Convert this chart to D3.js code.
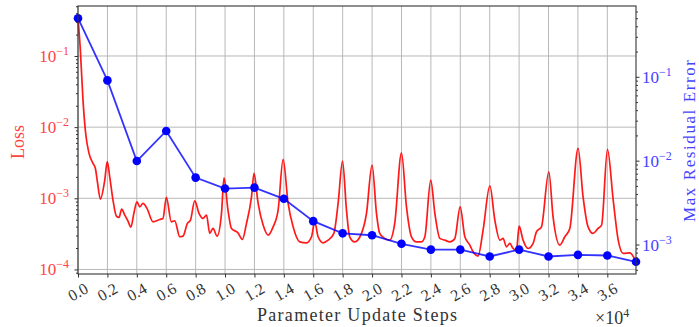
<!DOCTYPE html>
<html>
<head>
<meta charset="utf-8">
<style>
  body { margin:0; background:#fff; }
  text { font-family: "Liberation Serif", "DejaVu Serif", serif; }
</style>
</head>
<body>
<div id="chart"></div>
<script src="https://cdn.jsdelivr.net/npm/d3@7"></script>
<script>
const width = 699, height = 327;
const margin = {top: 6, right: 63, bottom: 53, left: 78};

// checkpoints and max residual error (right axis)
const errSteps = [0, 2000, 4000, 6000, 8000, 10000, 12000, 14000, 16000, 18000, 20000,
  22000, 24000, 26000, 28000, 30000, 32000, 34000, 36000, 37950];
const errValues = [0.50, 0.0906, 0.0099, 0.0226, 0.00628, 0.00465, 0.00477, 0.00351, 0.0019,
  0.00136, 0.00129, 0.00102, 0.00087, 0.00087, 0.00072, 0.00087, 0.00072, 0.000753, 0.00074, 0.000622];

// training loss (left axis)
const lossSteps = [0,160,340,520,750,1020,1180,1320,1520,1820,
  1990,2160,2380,2610,2790,2970,3180,3400,3600,3790,
  4010,4200,4420,4690,5100,5560,5780,6010,6350,6580,
  6920,7140,7440,7650,7940,8230,8500,8740,8960,9180,
  9460,9760,9930,10200,10440,10880,11180,11460,11800,11970,
  12250,12590,12930,13270,13610,13950,14290,14630,15080,15540,
  15880,16100,16330,16670,17010,17400,17690,17990,18260,18480,
  18820,19280,19620,20000,20300,20520,20860,21200,21540,22000,
  22340,22680,23020,23360,23590,23990,24270,24610,24950,25290,
  25630,25990,26310,26650,26870,27210,27550,28010,28350,28690,
  28910,29140,29370,29590,29820,30000,30270,30610,30950,31180,
  31520,32020,32310,32770,33110,33450,34010,34350,34690,35030,
  35370,35610,36010,36400,36740,37080,37530,37950];
const lossValues = [0.34,0.121,0.024,0.0082,0.00428,0.0031,0.00264,0.0017,0.000975,0.0018,
  0.00328,0.00199,0.000944,0.000562,0.000538,0.000705,0.000581,0.000478,0.000394,0.0006,
  0.000893,0.000758,0.000847,0.000721,0.000467,0.000504,0.000521,0.00103,0.000467,0.000483,
  0.000288,0.000294,0.000444,0.000493,0.000922,0.000614,0.000521,0.000581,0.000321,0.000377,
  0.000294,0.000614,0.00194,0.000682,0.000377,0.000327,0.000264,0.000444,0.00105,0.00224,
  0.000847,0.00042,0.000303,0.000397,0.000682,0.00352,0.000847,0.000397,0.000244,0.000237,
  0.000288,0.000467,0.000288,0.000237,0.000258,0.000321,0.000847,0.00333,0.000682,0.000288,
  0.000244,0.000321,0.000614,0.00293,0.000614,0.000321,0.000273,0.000258,0.000444,0.00436,
  0.000758,0.000288,0.000244,0.000244,0.000288,0.0018,0.000614,0.000273,0.000258,0.000244,
  0.000273,0.000758,0.000288,0.00022,0.000177,0.000154,0.000357,0.0015,0.000493,0.000258,
  0.000273,0.000208,0.000232,0.000197,0.000187,0.000406,0.000258,0.000197,0.000232,0.000338,
  0.000397,0.00236,0.000549,0.00022,0.000288,0.000377,0.00504,0.00105,0.000397,0.000321,
  0.000377,0.00042,0.00488,0.000944,0.000258,0.000168,0.000171,0.000128];

// tick labels
const xTicks = [0,2000,4000,6000,8000,10000,12000,14000,16000,18000,20000,22000,24000,26000,28000,30000,32000,34000,36000];
const xTickLabels = ["0.0","0.2","0.4","0.6","0.8","1.0","1.2","1.4","1.6","1.8","2.0","2.2","2.4","2.6","2.8","3.0","3.2","3.4","3.6"];
const leftExps = [-1, -2, -3, -4];
const rightExps = [-1, -2, -3];

const lossColor = "#ff0000", errColor = "#0000ff";
const lossText = "#ff4444", errText = "#4444ff";

// log extent padded 5% like matplotlib
function padLog(vals) {
  const lo = Math.log10(d3.min(vals)), hi = Math.log10(d3.max(vals));
  const p = (hi - lo) * 0.05;
  return [Math.pow(10, lo - p), Math.pow(10, hi + p)];
}
function minors(dom) {
  const out = [];
  for (let e = Math.floor(Math.log10(dom[0])); e <= Math.ceil(Math.log10(dom[1])); e++) {
    for (let k = 2; k <= 9; k++) {
      const v = k * Math.pow(10, e);
      if (v >= dom[0] && v <= dom[1]) out.push(v);
    }
  }
  return out;
}

const svg = d3.select("#chart").append("svg")
    .attr("width", width)
    .attr("height", height);

const x = d3.scaleLinear()
    .domain([0, d3.max(errSteps)])
    .range([margin.left, width - margin.right]);
const yL = d3.scaleLog()
    .domain(padLog(lossValues))
    .range([height - margin.bottom, margin.top]);
const yR = d3.scaleLog()
    .domain(padLog(errValues))
    .range([height - margin.bottom, margin.top]);

// grid
svg.append("g").selectAll("line").data(xTicks).join("line")
    .attr("x1", d => x(d)).attr("x2", d => x(d))
    .attr("y1", margin.top).attr("y2", height - margin.bottom)
    .attr("stroke", "#b8b8b8").attr("stroke-width", 1);
svg.append("g").selectAll("line").data(leftExps).join("line")
    .attr("x1", margin.left).attr("x2", width - margin.right)
    .attr("y1", d => yL(Math.pow(10, d))).attr("y2", d => yL(Math.pow(10, d)))
    .attr("stroke", "#b8b8b8").attr("stroke-width", 1);

// loss curve
svg.append("path")
    .datum(lossSteps.map((s, i) => [s, lossValues[i]]))
    .attr("fill", "none")
    .attr("stroke", lossColor)
    .attr("stroke-opacity", 0.9)
    .attr("stroke-width", 1.7)
    .attr("d", d3.line().x(d => x(d[0])).y(d => yL(d[1])).curve(d3.curveMonotoneX));

// error line + markers
const errData = errSteps.map((s, i) => [s, errValues[i]]);
svg.append("path")
    .datum(errData)
    .attr("fill", "none")
    .attr("stroke", errColor)
    .attr("stroke-opacity", 0.8)
    .attr("stroke-width", 1.8)
    .attr("d", d3.line().x(d => x(d[0])).y(d => yR(d[1])));
svg.append("g").selectAll("circle").data(errData).join("circle")
    .attr("cx", d => x(d[0])).attr("cy", d => yR(d[1]))
    .attr("r", 4.3).attr("fill", errColor);

// frame
svg.append("rect")
    .attr("x", margin.left).attr("y", margin.top)
    .attr("width", width - margin.left - margin.right)
    .attr("height", height - margin.top - margin.bottom)
    .attr("fill", "none").attr("stroke", "#333").attr("stroke-width", 1.1);

// ticks
const bottom = height - margin.bottom;
function tickG(axis, tx, ty) {
  const g = svg.append("g").attr("transform", `translate(${tx},${ty})`).call(axis);
  g.select(".domain").remove();
  g.selectAll("line").attr("stroke", "#333");
  return g;
}
tickG(d3.axisBottom(x).tickValues(xTicks).tickSize(3.5).tickFormat(""), 0, bottom);
tickG(d3.axisLeft(yL).tickValues(leftExps.map(e => Math.pow(10, e))).tickSize(3.5).tickFormat(""), margin.left, 0);
tickG(d3.axisLeft(yL).tickValues(minors(yL.domain())).tickSize(2).tickFormat(""), margin.left, 0);
tickG(d3.axisRight(yR).tickValues(rightExps.map(e => Math.pow(10, e))).tickSize(3.5).tickFormat(""), width - margin.right, 0);
tickG(d3.axisRight(yR).tickValues(minors(yR.domain())).tickSize(2).tickFormat(""), width - margin.right, 0);

// x tick labels, rotated
svg.append("g").selectAll("text").data(xTicks).join("text")
    .attr("transform", d => `translate(${x(d)},${bottom + 18}) rotate(-30)`)
    .attr("text-anchor", "middle")
    .attr("dominant-baseline", "central")
    .attr("font-size", 16)
    .attr("fill", "#333")
    .text((d, i) => xTickLabels[i]);

// power-of-ten labels
function powLabel(sel, color) {
  sel.attr("fill", color).attr("font-size", 17);
  sel.append("tspan").text("10");
  sel.append("tspan").attr("dy", -7).attr("font-size", 12).text(d => "\u2212" + Math.abs(d));
}
svg.append("g").selectAll("text").data(leftExps).join("text")
    .attr("x", margin.left - 9)
    .attr("y", d => yL(Math.pow(10, d)) + 6)
    .attr("text-anchor", "end")
    .call(powLabel, lossText);
svg.append("g").selectAll("text").data(rightExps).join("text")
    .attr("x", width - margin.right + 6)
    .attr("y", d => yR(Math.pow(10, d)) + 6)
    .attr("text-anchor", "start")
    .call(powLabel, errText);

// axis titles
svg.append("text")
    .attr("transform", `translate(24,142) rotate(-90)`)
    .attr("text-anchor", "middle")
    .attr("font-size", 18)
    .attr("fill", lossText)
    .text("Loss");
svg.append("text")
    .attr("transform", `translate(695,141) rotate(-90)`)
    .attr("text-anchor", "middle")
    .attr("font-size", 17)
    .attr("textLength", 162)
    .attr("lengthAdjust", "spacing")
    .attr("fill", errText)
    .text("Max Residual Error");
svg.append("text")
    .attr("x", 357).attr("y", 321)
    .attr("text-anchor", "middle")
    .attr("font-size", 18)
    .attr("textLength", 200)
    .attr("lengthAdjust", "spacing")
    .attr("fill", "#333")
    .text("Parameter Update Steps");
const mult = svg.append("text")
    .attr("x", 595).attr("y", 324)
    .attr("font-size", 18)
    .attr("fill", "#333");
mult.append("tspan").text("\u00d710");
mult.append("tspan").attr("dy", -7).attr("font-size", 12).text("4");
</script>
</body>
</html>
